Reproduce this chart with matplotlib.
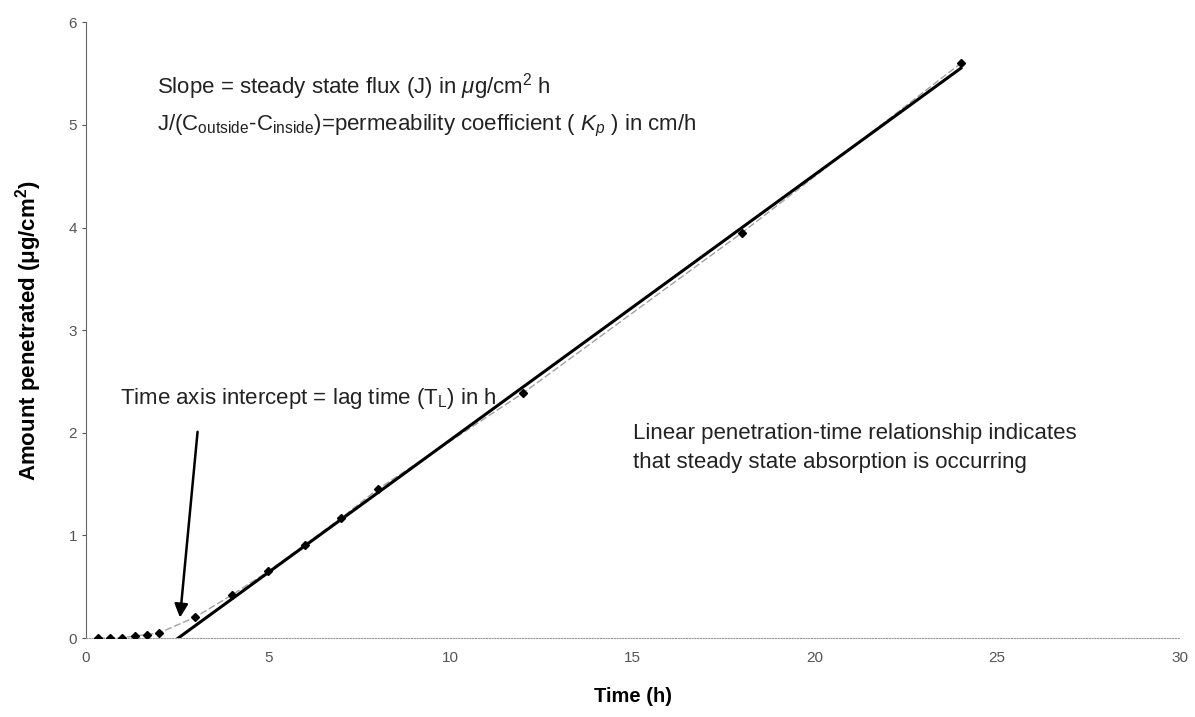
import numpy as np
import matplotlib
matplotlib.use('Agg')
import matplotlib.pyplot as plt

plt.rcParams['font.family'] = ['Liberation Sans', 'DejaVu Sans']
plt.rcParams['mathtext.fontset'] = 'custom'
plt.rcParams['mathtext.rm'] = 'Liberation Sans'
plt.rcParams['mathtext.it'] = 'Liberation Sans:italic'
plt.rcParams['mathtext.bf'] = 'Liberation Sans:bold'

# penetration data
time_h = [0.33, 0.67, 1.0, 1.33, 1.67, 2.0, 3, 4, 5, 6, 7, 8, 12, 18, 24]
amount = [0.0, 0.0, 0.005, 0.02, 0.035, 0.05, 0.205, 0.42, 0.65, 0.91, 1.17, 1.45, 2.39, 3.95, 5.6]
steady_from = 6  # steady state region used for the fit

x_ticks = [0, 5, 10, 15, 20, 25, 30]
y_ticks = [0, 1, 2, 3, 4, 5, 6]

t = np.array(time_h)
a = np.array(amount)
m = t >= steady_from
slope, icpt = np.polyfit(t[m], a[m], 1)
lag = -icpt / slope

fig = plt.figure(figsize=(11.95, 7.17), dpi=100)
ax = fig.add_axes([0.072, 0.110, 0.915, 0.859])

# thin line joining the points, then the steady-state fit
ax.plot(t, a, color='#a0a0a0', lw=1.0, ls=(0, (5, 2)), zorder=2)
xf = np.array([lag, t.max()])
ax.plot(xf, slope * xf + icpt, color='black', lw=2.2, zorder=3)
ax.plot(t, a, 'D', color='black', ms=4.5, ls='none', zorder=4)

ax.set_xlim(0, 30)
ax.set_ylim(0, 6)
ax.set_xticks(x_ticks)
ax.set_yticks(y_ticks)
ax.tick_params(axis='both', colors='#555555', labelsize=11, length=3, width=0.8)
ax.tick_params(axis='x', length=0, pad=9)
for s in ['top', 'right']:
    ax.spines[s].set_visible(False)
ax.spines['left'].set_color('#666666')
ax.spines['bottom'].set_color('#999999')
ax.spines['bottom'].set_linestyle((0, (1, 1.5)))

ax.set_xlabel('Time (h)', fontsize=14.5, fontweight='bold', labelpad=16)
ax.set_ylabel(r'Amount penetrated ($\mathbf{\mu}$g/cm$^{\mathbf{2}}$)', fontsize=16,
              fontweight='bold', labelpad=18)

fs = 16
tc = '#222222'
ax.text(1.95, 5.37, r'Slope = steady state flux (J) in $\mu$g/cm$^{2}$ h', fontsize=fs,
        va='center', color=tc)
ax.text(1.95, 4.99, r'J/(C$_{\rm outside}$-C$_{\rm inside}$)=permeability coefficient ( $K_p$ ) in cm/h',
        fontsize=fs, va='center', color=tc)
ax.text(0.93, 2.33, r'Time axis intercept = lag time (T$_{\rm L}$) in h', fontsize=fs,
        va='center', color=tc)
ax.text(15.0, 1.99, 'Linear penetration-time relationship indicates', fontsize=fs,
        va='center', color=tc)
ax.text(15.0, 1.71, 'that steady state absorption is occurring', fontsize=fs,
        va='center', color=tc)

ax.annotate('', xy=(lag + 0.05, 0.2), xytext=(3.06, 2.01),
            arrowprops=dict(arrowstyle='-|>', color='black', lw=1.8,
                            mutation_scale=20, shrinkA=0, shrinkB=0))

fig.savefig('out.png', dpi=100)
